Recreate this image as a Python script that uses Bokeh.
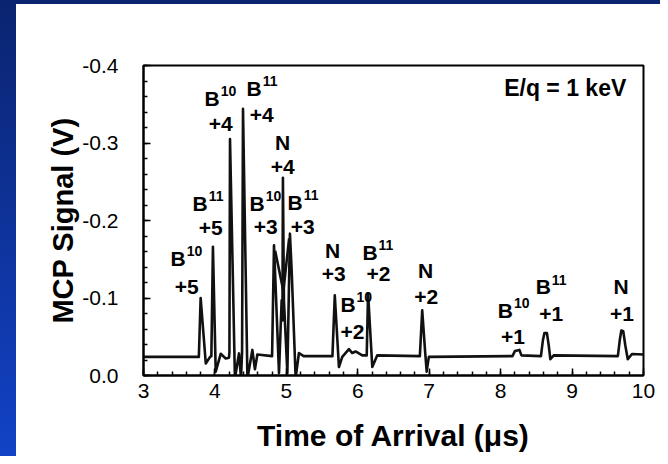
from bokeh.plotting import figure
from bokeh.models import Range1d, FixedTicker, PrintfTickFormatter, ColumnDataSource, Div
from bokeh.layouts import row, column
from bokeh.core.properties import value
from bokeh.embed import file_html
from bokeh.resources import INLINE

# ---- data ----
# MCP signal trace: time of arrival (microseconds) and signal (V)
time_us = [3.000, 3.775, 3.800, 3.872, 3.932, 3.950, 3.972, 4.011, 4.081, 4.151,
           4.197, 4.203, 4.211, 4.280, 4.337, 4.365, 4.380, 4.393, 4.455, 4.524,
           4.560, 4.594, 4.800, 4.827, 4.897, 4.934, 4.945, 4.952, 4.966, 5.014,
           5.050, 5.074, 5.130, 5.176, 5.242, 5.645, 5.678, 5.736, 5.783, 5.876,
           5.923, 5.969, 6.063, 6.125, 6.144, 6.203, 6.273, 6.869, 6.902, 6.945,
           6.965, 6.975, 6.995, 8.165, 8.200, 8.263, 8.291, 8.564, 8.592, 8.613,
           8.648, 8.673, 8.696, 8.743, 9.641, 9.668, 9.690, 9.717, 9.745, 9.780,
           9.839, 10.000]
signal_v = [-0.024, -0.024, -0.100, -0.0155, -0.024, -0.025, -0.166, -0.005, -0.028, -0.022,
            -0.023, -0.030, -0.305, 0.004, -0.0285, 0.003, -0.030, -0.344, 0.004, -0.033,
            -0.008, -0.027, -0.025, -0.168, -0.003, -0.097, -0.071, -0.255, -0.097, -0.003,
            -0.183, -0.136, 0.003, -0.029, -0.025, -0.025, -0.1035, -0.011, -0.024, -0.034,
            -0.029, -0.031, -0.026, -0.026, -0.106, -0.011, -0.026, -0.025, -0.084, -0.028,
            -0.005, -0.012, -0.024, -0.025, -0.0315, -0.033, -0.026, -0.025, -0.0457, -0.0547,
            -0.0547, -0.039, -0.021, -0.026, -0.025, -0.0457, -0.058, -0.057, -0.039, -0.021,
            -0.0277, -0.027]
# second sweep visible as a "V" between the B10+3 and B11+3 peaks
overlay_t = [4.843, 4.958, 5.039]
overlay_v = [-0.161, -0.109, -0.177]

ion_element = ["B", "B", "B", "B", "N", "B", "B", "N", "B", "B", "N", "B", "B", "N"]
ion_mass = ["10", "11", "10", "11", "", "10", "11", "", "10", "11", "", "10", "11", ""]
ion_charge = ["+5", "+5", "+4", "+4", "+4", "+3", "+3", "+3", "+2", "+2", "+2", "+1", "+1", "+1"]
label_t = [3.592, 3.899, 4.067, 4.655, 4.948, 4.697, 5.228, 5.647, 5.969, 6.277, 6.948, 8.172, 8.703, 9.687]
label_v = [-0.151, -0.2225, -0.3576, -0.3704, -0.301, -0.2225, -0.2238, -0.1614, -0.092, -0.1592,
           -0.1357, -0.0842, -0.1142, -0.1142]
charge_t = [3.606, 3.941, 4.081, 4.655, 4.948, 4.711, 5.228, 5.662, 5.927, 6.291, 6.959, 8.172, 8.708, 9.699]
charge_v = [-0.1145, -0.1904, -0.3241, -0.3357, -0.2688, -0.191, -0.191, -0.1305, -0.056, -0.1305,
            -0.1013, -0.0499, -0.08, -0.08]

note_text = ["E/q = 1 keV"]
note_t = [9.759]
note_v = [-0.3714]

x_ticks = [3, 4, 5, 6, 7, 8, 9, 10]
y_ticks = [-0.4, -0.3, -0.2, -0.1, 0.0]
x_title = "Time of Arrival (\u03bcs)"
y_title = "MCP Signal (V)"

# ---- figure ----
FONT = "Liberation Sans"
p = figure(width=644, height=452, x_range=Range1d(3, 10), y_range=Range1d(0.0, -0.4),
           output_backend="svg", toolbar_location=None,
           min_border_left=127, min_border_right=17, min_border_top=61, min_border_bottom=81,
           background_fill_color="white", border_fill_color="white",
           outline_line_color="black", outline_line_width=2)
p.grid.visible = False

p.line(time_us, signal_v, line_color="#111111", line_width=2.6, line_join="round")
p.line(overlay_t, overlay_v, line_color="#111111", line_width=2.6, line_join="round")

b_idx = [i for i, e in enumerate(ion_element) if e == "B"]
n_idx = [i for i, e in enumerate(ion_element) if e != "B"]
src_b = ColumnDataSource(dict(x=[label_t[i] for i in b_idx], y=[label_v[i] for i in b_idx],
                              el=[ion_element[i] for i in b_idx], m=[ion_mass[i] for i in b_idx]))
src_n = ColumnDataSource(dict(x=[label_t[i] for i in n_idx], y=[label_v[i] for i in n_idx],
                              el=[ion_element[i] for i in n_idx]))
src_c = ColumnDataSource(dict(x=charge_t, y=charge_v, t=ion_charge))

common = dict(text_font=value(FONT), text_font_style="bold", text_color="black", text_baseline="middle")
p.text(x="x", y="y", text="el", source=src_b, text_align="right", x_offset=0,
       text_font_size="21px", **common)
p.text(x="x", y="y", text="m", source=src_b, text_align="left", x_offset=1, y_offset=-7,
       text_font_size="14px", **common)
p.text(x="x", y="y", text="el", source=src_n, text_align="center", text_font_size="21px", **common)
p.text(x="x", y="y", text="t", source=src_c, text_align="center", text_font_size="21px", **common)
p.text(x=note_t, y=note_v, text=note_text, text_align="right", text_font_size="23px", **common)

xa = p.xaxis[0]
ya = p.yaxis[0]
xa.ticker = FixedTicker(ticks=x_ticks, minor_ticks=[round(3 + 0.2 * k, 1) for k in range(36)])
ya.ticker = FixedTicker(ticks=y_ticks, minor_ticks=[round(-0.4 + 0.02 * k, 2) for k in range(21)])
ya.formatter = PrintfTickFormatter(format="%.1f")
xa.axis_label = x_title
ya.axis_label = y_title
for ax in (xa, ya):
    ax.axis_line_width = 2
    ax.axis_line_color = "black"
    ax.major_tick_in = 7
    ax.major_tick_out = 0
    ax.minor_tick_in = 4
    ax.minor_tick_out = 0
    ax.major_tick_line_width = 1.5
    ax.minor_tick_line_width = 1.5
    ax.major_tick_line_color = "black"
    ax.minor_tick_line_color = "black"
    ax.major_label_text_font = FONT
    ax.major_label_text_font_size = "21px"
    ax.major_label_text_color = "black"
    ax.axis_label_text_font = FONT
    ax.axis_label_text_font_style = "bold"
    ax.axis_label_text_color = "black"
xa.axis_label_text_font_size = "30px"
ya.axis_label_text_font_size = "29px"
ya.major_label_standoff = 25
ya.axis_label_standoff = 0
xa.major_label_standoff = 8
xa.axis_label_standoff = 18

top_band = Div(text="", width=660, height=4, margin=0,
               styles={"background": "#0a2470"})
strip = Div(text="", width=16, height=452, margin=0,
            styles={"background": "linear-gradient(180deg, #0a2470 0%, #1242c6 100%)"})
layout = column(top_band, row(strip, p, spacing=0), spacing=0)

open("out.html", "w").write(file_html(layout, INLINE))
